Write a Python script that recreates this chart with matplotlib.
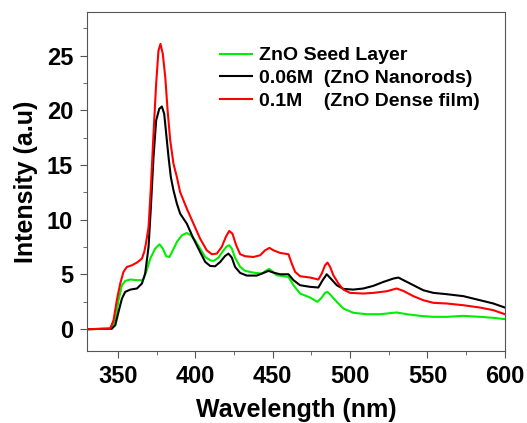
import matplotlib
matplotlib.use("Agg")
import matplotlib.pyplot as plt
from matplotlib.ticker import MultipleLocator

plt.rcParams['font.family'] = ['Liberation Sans', 'DejaVu Sans']
plt.rcParams['font.weight'] = 'bold'

# Green: ZnO Seed Layer
seed_x = [330, 346.1, 348.3, 350.4, 352.6, 354.7, 358.0, 362.3, 366.1, 368.3, 370.9, 374.1, 376.9,
          379.0, 381.2, 383.3, 385.5, 388.1, 391.3, 394.5, 397.1, 399.9, 403.1, 406.4, 409.6, 411.8,
          415.0, 418.2, 420.4, 421.9, 423.6, 425.7, 429.0, 432.2, 437.6, 443.0, 446.2, 447.7, 449.4,
          452.6, 456.9, 460.2, 463.4, 467.7, 474.2, 478.9, 481.7, 483.8, 485.4, 487.5, 491.4, 495.7,
          502.1, 510.7, 519.4, 530.1, 536.6, 545.2, 553.8, 562.4, 573.2, 583.9, 592.5, 600]
seed_y = [0, 0.05, 0.83, 2.65, 4.02, 4.41, 4.54, 4.48, 4.48, 5.24, 6.45, 7.37, 7.76,
          7.37, 6.67, 6.6, 7.21, 7.97, 8.58, 8.79, 8.58, 8.12, 7.37, 6.6, 6.3, 6.24,
          6.54, 7.21, 7.58, 7.67, 7.37, 6.54, 5.69, 5.33, 5.17, 5.08, 5.39, 5.51, 5.33,
          4.93, 4.84, 4.78, 4.02, 3.26, 2.89, 2.5, 2.89, 3.32, 3.41, 3.11, 2.5, 1.89,
          1.5, 1.37, 1.37, 1.53, 1.37, 1.22, 1.13, 1.13, 1.22, 1.13, 1.04, 0.92]

# Black: 0.06M (ZnO Nanorods)
rods_x = [330, 346.1, 348.3, 350.4, 352.6, 354.7, 358.0, 362.3, 365.5, 367.6, 369.8, 371.3, 373.0,
          374.7, 376.7, 378.4, 379.9, 381.2, 382.7, 384.2, 385.9, 388.1, 390.2, 394.5, 398.8, 403.1,
          406.4, 409.6, 412.8, 416.1, 419.3, 421.4, 423.6, 425.7, 429.0, 433.3, 439.7, 444.0, 447.3,
          450.5, 454.8, 460.2, 463.4, 467.7, 474.2, 479.5, 482.3, 484.9, 487.5, 491.4, 495.7, 502.1,
          508.6, 515.0, 521.5, 528.0, 531.2, 535.5, 540.9, 547.3, 553.8, 562.4, 573.2, 583.9, 592.5, 600]
rods_y = [0, 0.05, 0.37, 1.59, 2.8, 3.41, 3.62, 3.72, 4.17, 5.08, 7.52, 11.17, 15.73,
          19.07, 20.14, 20.35, 19.68, 17.86, 15.73, 13.9, 12.69, 11.47, 10.56, 9.65, 8.28, 7.06,
          6.15, 5.78, 5.75, 6.15, 6.7, 6.91, 6.54, 5.69, 5.14, 4.9, 4.9, 5.14, 5.33,
          5.17, 5.02, 5.02, 4.48, 4.02, 3.87, 3.81, 4.48, 5.02, 4.63, 4.02, 3.68, 3.62,
          3.72, 3.96, 4.32, 4.63, 4.72, 4.41, 4.02, 3.56, 3.32, 3.2, 3.02, 2.65, 2.35, 1.98]

# Red: 0.1M (ZnO Dense film)
dense_x = [330, 345.0, 347.2, 349.3, 351.5, 353.6, 355.8, 359.0, 362.3, 365.5, 367.0, 368.1, 369.8,
           371.3, 373.0, 374.7, 376.2, 377.5, 379.0, 380.6, 382.1, 383.8, 385.9, 388.1, 390.2, 394.5,
           398.8, 403.1, 407.4, 410.7, 413.9, 417.1, 419.7, 421.9, 424.0, 426.4, 429.0, 432.2, 437.6,
           441.9, 445.1, 447.9, 450.5, 454.8, 460.2, 462.3, 464.5, 467.7, 474.2, 479.5, 481.7, 483.8,
           485.4, 487.1, 489.2, 492.5, 495.7, 500.0, 508.6, 515.0, 523.7, 530.1, 534.4, 540.9, 547.3,
           553.8, 562.4, 573.2, 583.9, 592.5, 600]
dense_y = [0, 0.05, 0.83, 2.65, 4.17, 5.24, 5.69, 5.84, 6.09, 6.45, 7.06, 7.82, 9.34,
           12.99, 17.86, 22.42, 25.46, 26.07, 25.15, 23.03, 20.0, 17.25, 15.12, 13.9, 12.53, 11.02,
           9.65, 8.28, 7.21, 6.85, 6.91, 7.52, 8.43, 8.98, 8.73, 7.67, 6.85, 6.67, 6.6,
           6.76, 7.21, 7.43, 7.21, 6.97, 6.85, 6.0, 5.24, 4.84, 4.72, 4.54, 5.08, 5.84,
           6.09, 5.69, 4.93, 4.17, 3.62, 3.32, 3.26, 3.32, 3.47, 3.72, 3.5, 3.02, 2.65,
           2.41, 2.35, 2.19, 1.98, 1.74, 1.37]

labels = ["ZnO Seed Layer", "0.06M  (ZnO Nanorods)", "0.1M    (ZnO Dense film)"]
colors = ["#00ee00", "black", "red"]

fig = plt.figure(figsize=(5.27, 4.23), dpi=100)
ax = fig.add_axes([0.165, 0.170, 0.793, 0.802])

for x, y, lab, c in zip([seed_x, rods_x, dense_x], [seed_y, rods_y, dense_y], labels, colors):
    ax.plot(x, y, color=c, lw=1.5, label=lab, solid_joinstyle='round')

ax.set_xlim(330, 600)
ax.set_ylim(-2, 29)
ax.xaxis.set_major_locator(MultipleLocator(50))
ax.xaxis.set_minor_locator(MultipleLocator(25))
ax.yaxis.set_major_locator(MultipleLocator(5))
ax.yaxis.set_minor_locator(MultipleLocator(2.5))
ax.tick_params(which='both', direction='out', top=False, right=False, color='#555555')
ax.tick_params(which='major', length=5, labelsize=17, pad=5)
ax.tick_params(which='minor', length=3)
for s in ax.spines.values():
    s.set_color('#555555')
for lab in ax.get_xticklabels() + ax.get_yticklabels():
    lab.set_fontweight('bold')

ax.set_xlabel("Wavelength (nm)", fontsize=18, fontweight='bold', labelpad=7)
ax.set_ylabel("Intensity (a.u)", fontsize=18, fontweight='bold', labelpad=6)

leg = ax.legend(loc='upper left', bbox_to_anchor=(0.318, 0.897), frameon=False,
                prop={'weight': 'bold', 'size': 14}, handlelength=1.65, labelspacing=0.26,
                handletextpad=0.35, borderpad=0, borderaxespad=0)

fig.savefig("out.png", dpi=100)
